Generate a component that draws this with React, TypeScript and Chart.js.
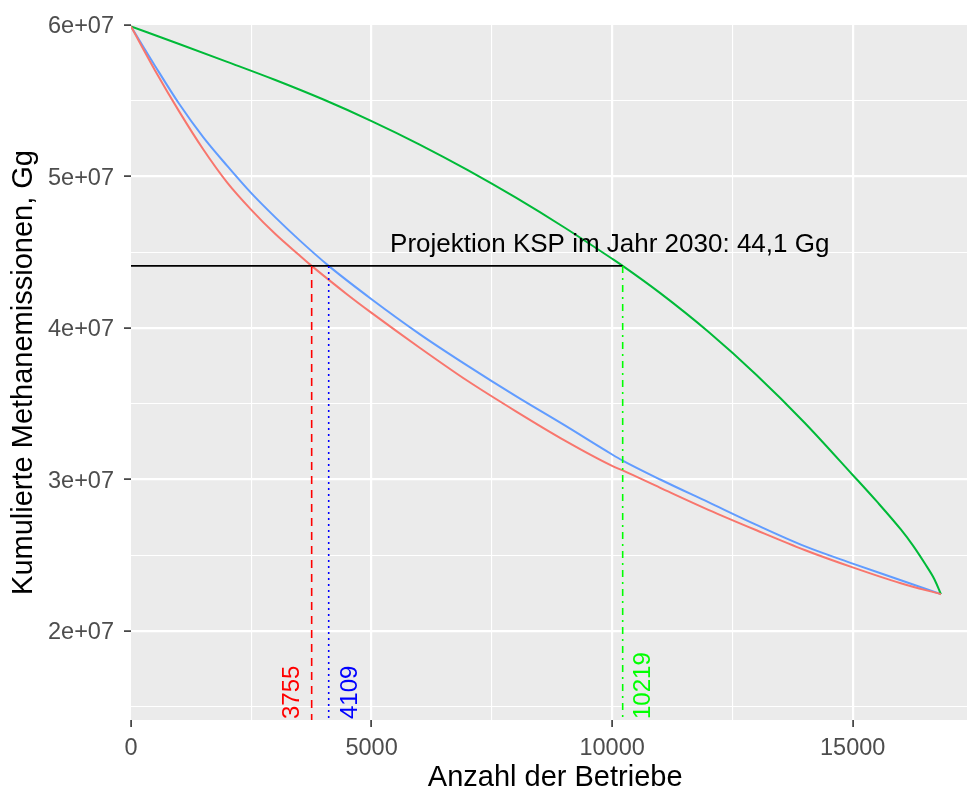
import React, { useEffect, useRef } from "react";
import { Chart, registerables } from "chart.js";

Chart.register(...registerables);

// ---- data ----
const redX = [0, 500, 1000, 1500, 2000, 2500, 3000, 3500, 3755, 4500, 5000, 6000, 7000, 8000, 9000, 10000, 10219, 11000, 12000, 13000, 14000, 15000, 16000, 16833];
const redY = [5.99e7, 5.70e7, 5.43e7, 5.18e7, 4.96e7, 4.78e7, 4.62e7, 4.48e7, 4.41e7, 4.22e7, 4.10e7, 3.87e7, 3.65e7, 3.45e7, 3.26e7, 3.09e7, 3.06e7, 2.945e7, 2.80e7, 2.665e7, 2.535e7, 2.42e7, 2.315e7, 2.243e7];

const blueX = [0, 500, 1000, 1500, 2000, 2500, 3000, 3500, 4109, 5000, 6000, 7000, 8000, 9000, 10000, 10219, 11000, 12000, 13000, 14000, 15000, 16000, 16833];
const blueY = [5.99e7, 5.73e7, 5.48e7, 5.26e7, 5.07e7, 4.89e7, 4.73e7, 4.58e7, 4.41e7, 4.19e7, 3.96e7, 3.75e7, 3.55e7, 3.36e7, 3.165e7, 3.125e7, 3.0e7, 2.85e7, 2.70e7, 2.56e7, 2.445e7, 2.335e7, 2.243e7];

const greenX = [0, 1000, 2000, 3000, 4000, 5000, 6000, 7000, 8000, 9000, 10000, 10219, 11000, 12000, 13000, 14000, 15000, 15500, 16000, 16250, 16500, 16700, 16833];
const greenY = [5.99e7, 5.875e7, 5.757e7, 5.637e7, 5.508e7, 5.366e7, 5.211e7, 5.042e7, 4.86e7, 4.665e7, 4.457e7, 4.41e7, 4.23e7, 3.975e7, 3.69e7, 3.375e7, 3.03e7, 2.855e7, 2.67e7, 2.565e7, 2.445e7, 2.34e7, 2.243e7];

const kspLevel = 44.1e6;
const kspLabel = "Projektion KSP im Jahr 2030: 44,1 Gg";
const kspLabelX = 9950;
const kspLabelY = 4.55e7;

const thresholdX = [3755, 4109, 10219];
const thresholdLabels = ["3755", "4109", "10219"];
const thresholdLabelX = [3350, 4550, 10640];

const xMin = 0;
const xMax = 17632;
const yMin = 1.4125e7;
const yMax = 6e7;
const xTickValues = [0, 2500, 5000, 7500, 10000, 12500, 15000, 17500];
const yTickValues = [1.5e7, 2e7, 2.5e7, 3e7, 3.5e7, 4e7, 4.5e7, 5e7, 5.5e7, 6e7];

const xTitle = "Anzahl der Betriebe";
const yTitle = "Kumulierte Methanemissionen, Gg";

// ---- styles ----
const FONT = "'Liberation Sans', Arial, sans-serif";
const curveColors = ["#F8766D", "#00BA38", "#619CFF"];
const thresholdColors = ["#FF0000", "#0000FF", "#00FF00"];
const thresholdDash = [[8, 6], [2, 4], [7, 5, 2, 5]];

const toPts = (xs: number[], ys: number[]) => xs.map((x, i) => ({ x, y: ys[i] }));

const panelBg = {
  id: "panelBg",
  beforeDraw(chart: any) {
    const { ctx, chartArea } = chart;
    ctx.save();
    ctx.fillStyle = "#EBEBEB";
    ctx.fillRect(chartArea.left, chartArea.top, chartArea.right - chartArea.left, chartArea.bottom - chartArea.top);
    ctx.restore();
  },
};

const textLabels = {
  id: "textLabels",
  afterDatasetsDraw(chart: any) {
    const { ctx } = chart;
    const xs = chart.scales.x;
    const ys = chart.scales.y;
    ctx.save();
    ctx.fillStyle = "#000000";
    ctx.font = `26px ${FONT}`;
    ctx.textAlign = "center";
    ctx.textBaseline = "middle";
    ctx.fillText(kspLabel, xs.getPixelForValue(kspLabelX), ys.getPixelForValue(kspLabelY));
    thresholdLabels.forEach((t, i) => {
      const px = xs.getPixelForValue(thresholdLabelX[i]);
      const py = ys.getPixelForValue(yMin);
      ctx.save();
      ctx.translate(px, py);
      ctx.rotate(-Math.PI / 2);
      ctx.fillStyle = thresholdColors[i];
      ctx.font = `24px ${FONT}`;
      ctx.textAlign = "left";
      ctx.textBaseline = "middle";
      ctx.fillText(t, 1, 0);
      ctx.restore();
    });
    ctx.restore();
  },
};

export default function App() {
  const ref = useRef<HTMLCanvasElement | null>(null);

  useEffect(() => {
    if (!ref.current) return;
    const curves = [
      { data: toPts(redX, redY), color: curveColors[0] },
      { data: toPts(greenX, greenY), color: curveColors[1] },
      { data: toPts(blueX, blueY), color: curveColors[2] },
    ].map((c) => ({
      data: c.data,
      borderColor: c.color,
      borderWidth: 2,
      pointRadius: 0,
      cubicInterpolationMode: "monotone" as const,
      fill: false,
      order: 10,
    }));
    const hline = {
      data: [
        { x: xMin, y: kspLevel },
        { x: thresholdX[2], y: kspLevel },
      ],
      borderColor: "#000000",
      borderWidth: 1.8,
      pointRadius: 0,
      tension: 0,
      fill: false,
      order: 2,
    };
    const vlines = thresholdX.map((x, i) => ({
      data: [
        { x, y: kspLevel },
        { x, y: yMin },
      ],
      borderColor: thresholdColors[i],
      borderWidth: 1.6,
      borderDash: thresholdDash[i],
      pointRadius: 0,
      tension: 0,
      fill: false,
      order: 1,
    }));

    const isMajorX = (v: number) => Math.round(v) % 5000 === 0;
    const isMajorY = (v: number) => Math.round(v / 1e6) % 10 === 0;

    const chart = new Chart(ref.current, {
      type: "line",
      data: { datasets: [...curves, hline, ...vlines] as any },
      plugins: [panelBg, textLabels],
      options: {
        animation: false,
        responsive: false,
        devicePixelRatio: 1,
        layout: { autoPadding: false, padding: { top: 25, left: 0, right: 0, bottom: 0 } },
        plugins: { legend: { display: false }, tooltip: { enabled: false } },
        scales: {
          x: {
            type: "linear",
            min: xMin,
            max: xMax,
            afterBuildTicks: (s: any) => {
              s.ticks = xTickValues.map((value) => ({ value }));
            },
            afterFit: (s: any) => {
              s.height = 72;
            },
            border: { display: false },
            grid: {
              color: (c: any) => (c.tick && c.tick.value === xMin ? "rgba(0,0,0,0)" : "#FFFFFF"),
              lineWidth: (c: any) => (c.tick && isMajorX(c.tick.value) ? 2.2 : 1.1),
              drawTicks: true,
              tickLength: 7,
              tickWidth: 1.6,
              tickColor: (c: any) => (c.tick && isMajorX(c.tick.value) ? "#333333" : "rgba(0,0,0,0)"),
            },
            ticks: {
              autoSkip: false,
              maxRotation: 0,
              padding: 7,
              color: "#4D4D4D",
              font: { family: FONT, size: 23.5 },
              callback: (v: any) => (isMajorX(Number(v)) ? String(Math.round(Number(v))) : ""),
            },
            title: {
              display: true,
              text: xTitle,
              color: "#000000",
              font: { family: FONT, size: 29, lineHeight: 1 },
              padding: { top: 0, bottom: 0 },
            },
          },
          y: {
            type: "linear",
            min: yMin,
            max: yMax,
            afterBuildTicks: (s: any) => {
              s.ticks = yTickValues.map((value) => ({ value }));
            },
            afterFit: (s: any) => {
              s.width = 131;
            },
            border: { display: false },
            grid: {
              color: (c: any) => (c.tick && c.tick.value >= yMax ? "rgba(0,0,0,0)" : "#FFFFFF"),
              lineWidth: (c: any) => (c.tick && isMajorY(c.tick.value) ? 2.2 : 1.1),
              drawTicks: true,
              tickLength: 7,
              tickWidth: 1.6,
              tickColor: (c: any) => (c.tick && isMajorY(c.tick.value) ? "#333333" : "rgba(0,0,0,0)"),
            },
            ticks: {
              autoSkip: false,
              padding: 10,
              labelOffset: 2,
              color: "#4D4D4D",
              font: { family: FONT, size: 23.5 },
              callback: (v: any) => {
                const m = Math.round(Number(v) / 1e6);
                return m % 10 === 0 ? `${m / 10}e+07` : "";
              },
            },
            title: {
              display: true,
              text: yTitle,
              color: "#000000",
              font: { family: FONT, size: 29, lineHeight: 1 },
              padding: { top: 9, bottom: 0 },
            },
          },
        },
      } as any,
    });
    return () => chart.destroy();
  }, []);

  return (
    <div
      style={{
        position: "fixed",
        left: 0,
        top: 0,
        width: 967,
        height: 792,
        overflow: "hidden",
        background: "#FFFFFF",
      }}
    >
      <canvas ref={ref} width={980} height={792} style={{ display: "block", width: 980, height: 792 }} />
    </div>
  );
}
